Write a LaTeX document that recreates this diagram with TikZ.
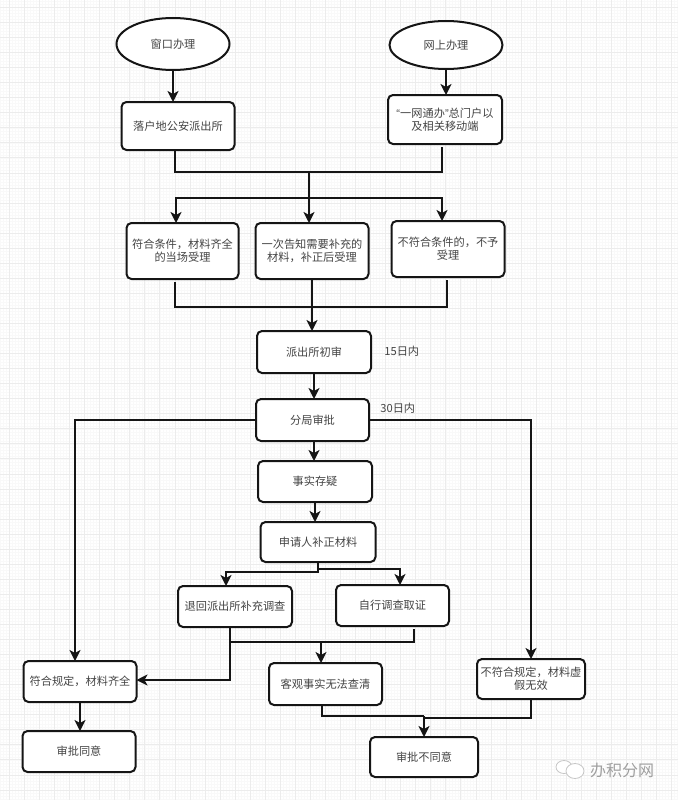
\documentclass[tikz,border=0pt]{standalone}
\usepackage{fontspec}
\setmainfont{Noto Sans CJK SC}
\newfontfamily\quotefont{Liberation Sans}
\usetikzlibrary{arrows.meta}
\usetikzlibrary{positioning}
\usetikzlibrary{shapes.geometric}
\definecolor{gridminor}{HTML}{F9F9F9}
\definecolor{gridmajor}{HTML}{ECECEC}
\definecolor{textgrey}{HTML}{444444}
\definecolor{linedark}{HTML}{151515}
\begin{document}
\begin{tikzpicture}[
	x=1pt, y=-1pt,
	line width=2pt,
	font=\fontsize{11.2}{13}\selectfont,
	text=textgrey,
	base/.style={draw=linedark, fill=white, outer sep=0pt, inner sep=1pt, align=center},
	startnode/.style={base, ellipse, minimum width=113pt},
	boxnode/.style={base, rounded corners=5pt, minimum width=113pt, minimum height=41pt},
	arrow/.style={draw=linedark, -{Stealth[length=11pt, width=11pt, inset=3pt]}},
	link/.style={draw=linedark},
	gap/.style={shorten <=3pt},
	gridthin/.style={draw=gridminor, line width=0.4pt},
	gridthick/.style={draw=gridmajor, line width=0.7pt},
]
	\useasboundingbox (0,0) rectangle (678,800);

	% background grid
	\foreach \i in {0,...,225} {
		\draw[gridthin] (\i*3.01+0.3,0) -- (\i*3.01+0.3,800);
	}
	\foreach \i in {0,...,266} {
		\draw[gridthin] (0,\i*3.01+1.3) -- (678,\i*3.01+1.3);
	}
	\foreach \i in {0,...,44} {
		\draw[gridthick] (\i*15.05+9.3,0) -- (\i*15.05+9.3,800);
	}
	\foreach \i in {0,...,52} {
		\draw[gridthick] (0,\i*15.05+7.3) -- (678,\i*15.05+7.3);
	}

	% nodes
	\node (chuangkou) [startnode, minimum height=52pt] at (173,44) {窗口办理};
	\node (wangshang) [startnode, minimum height=48pt, right=160pt of chuangkou, yshift=-1pt] {网上办理};
	\node (luohu) [boxnode, minimum height=48pt, below=32pt of chuangkou, xshift=5pt] {落户地公安派出所};
	\node (yiwang) [boxnode, minimum width=114pt, minimum height=49pt, below=26pt of wangshang, xshift=-1pt] {{\quotefont “}一网通办{\quotefont ”}总门户以\\及相关移动端};

	\node (shouli) [boxnode, minimum width=112pt, minimum height=56pt, below=73pt of luohu, xshift=4.5pt] {符合条件，材料齐全\\的当场受理};
	\node (gaozhi) [boxnode, minimum height=56pt, right=17pt of shouli] {一次告知需要补充的\\材料，补正后受理};
	\node (buyu) [boxnode, minimum height=56pt, right=23pt of gaozhi, yshift=2pt] {不符合条件的，不予\\受理};

	\node (chushen) [boxnode, minimum width=114pt, minimum height=42pt, below=52pt of gaozhi, xshift=2pt] {派出所初审};
	\node (fenju) [boxnode, minimum height=42pt, below=26pt of chushen, xshift=-1.5pt] {分局审批};
	\node (cunyi) [boxnode, minimum width=114pt, below=20pt of fenju, xshift=2.5pt] {事实存疑};
	\node (buzheng) [boxnode, minimum width=115pt, minimum height=40pt, below=20pt of cunyi, xshift=3pt] {申请人补正材料};

	\node (tuihui) [boxnode, minimum width=114pt, below=24pt of buzheng, xshift=-83pt] {退回派出所补充调查};
	\node (zixing) [boxnode, right=44pt of tuihui, yshift=1pt] {自行调查取证};
	\node (fuhe) [boxnode, below=34pt of tuihui, xshift=-155pt] {符合规定，材料齐全};
	\node (tongyi) [boxnode, below=29pt of fuhe, xshift=-1pt] {审批同意};
	\node (keguan) [boxnode, minimum height=42pt, below=36pt of tuihui, xshift=90.5pt] {客观事实无法查清};
	\node (bufu) [boxnode, minimum width=108pt, minimum height=40pt, right=95pt of keguan, yshift=5pt] {不符合规定，材料虚\\假无效};
	\node (butongyi) [boxnode, minimum width=108pt, minimum height=40pt, below=32pt of keguan, xshift=98.5pt] {审批不同意};

	\node (dayb) [right=9pt of chushen, yshift=1pt] {15日内};
	\node (dayc) [right=7pt of fenju, yshift=12pt] {30日内};

	% junctions
	\coordinate (mergea) at (309,172);
	\coordinate (splita) at (309,198);
	\coordinate (mergeb) at (312,307);
	\coordinate (mergec) at (321,642);
	\coordinate (merged) at (424,716);
	\coordinate (mergee) at (424,718);

	% connectors
	\draw[arrow] (chuangkou.south) -- (chuangkou.south|-luohu.north);
	\draw[arrow] (wangshang.south) -- (wangshang.south|-yiwang.north);
	\draw[link] ([xshift=-3pt]luohu.south) |- (mergea);
	\draw[link, gap] ([xshift=-3pt]yiwang.south) |- (mergea);
	\draw[arrow] (mergea) -- (mergea|-gaozhi.north);
	\draw[arrow] (splita) -| ([xshift=-6.5pt]shouli.north);
	\draw[arrow] (splita) -| ([xshift=-6pt]buyu.north);

	\draw[link, gap] ([xshift=-7.5pt]shouli.south) |- (mergeb);
	\draw[link, gap] ([xshift=-1pt]buyu.south) |- (mergeb);
	\draw[arrow] (gaozhi.south) -- (gaozhi.south|-chushen.north);
	\draw[arrow] (chushen.south) -- (chushen.south|-fenju.north);
	\draw[arrow] ([xshift=1.5pt]fenju.south) -- ([xshift=1.5pt]fenju.south|-cunyi.north);
	\draw[arrow] (cunyi.south) -- (cunyi.south|-buzheng.north);
	\draw[arrow] (fenju.west) -| ([xshift=-5pt]fuhe.north);
	\draw[arrow] (fenju.east) -| (bufu.north);

	\draw[arrow] (buzheng.south) -- ++(0,10) -| ([xshift=-9pt]tuihui.north);
	\draw[arrow] (buzheng.south) -- ++(0,7) -| ([xshift=7.5pt]zixing.north);
	\draw[link] ([xshift=-5pt]tuihui.south) |- (mergec);
	\draw[link, gap] ([xshift=21.5pt]zixing.south) |- (mergec);
	\draw[arrow] (mergec) -- (mergec|-keguan.north);
	\draw[arrow] ([xshift=-5pt]tuihui.south) |- ([yshift=1.5pt]fuhe.east);
	\draw[arrow] (fuhe.south) -- (fuhe.south|-tongyi.north);
	\draw[link] ([xshift=-3.5pt]keguan.south) |- (merged);
	\draw[link] (bufu.south) |- (mergee);
	\draw[arrow] (merged) -- (butongyi.north);

	% watermark
	\node (wxa) [ellipse, draw=gray!45, fill=white, line width=0.8pt, minimum width=16pt, minimum height=13pt, inner sep=0pt] at (564,767) {};
	\node (wxb) [ellipse, draw=gray!45, fill=white, line width=0.8pt, minimum width=18pt, minimum height=15pt, inner sep=0pt] at (575,771) {};
	\node (brand) [text=gray!75, font=\fontsize{16}{16}\selectfont, inner sep=0pt] at (622,770) {办积分网};
\end{tikzpicture}
\end{document}
